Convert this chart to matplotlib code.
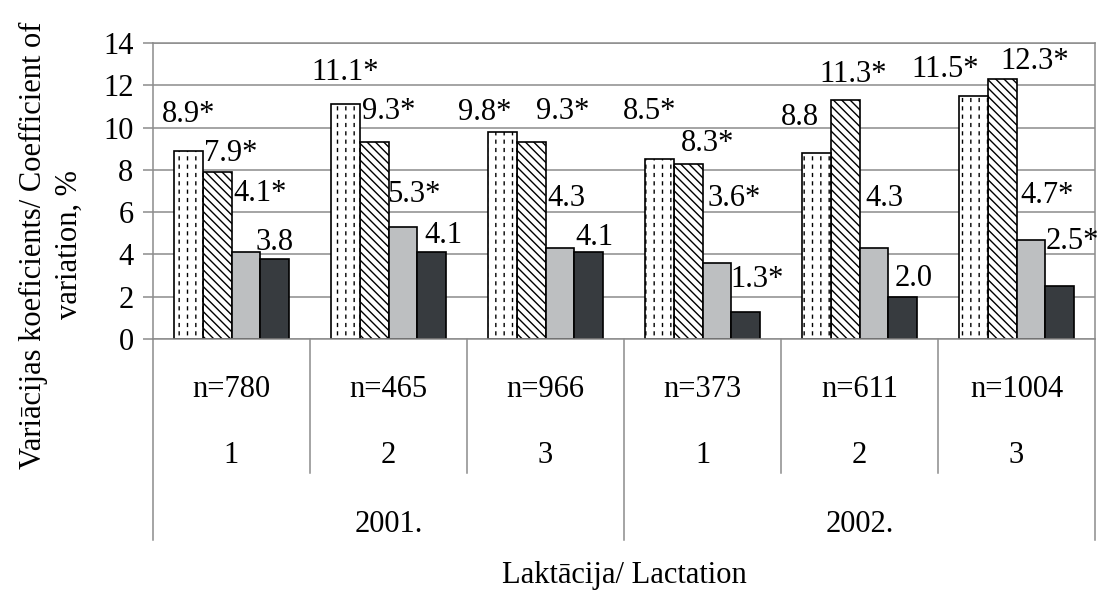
import numpy as np
import matplotlib.pyplot as plt
import matplotlib.transforms as mtransforms

plt.rcParams['font.family'] = ['Liberation Serif', 'DejaVu Serif']

years = ['2001.', '2002.']
lactation = ['1', '2', '3', '1', '2', '3']
n_labels = ['n=780', 'n=465', 'n=966', 'n=373', 'n=611', 'n=1004']

# four series of coefficients of variation, %
s1 = [8.9, 11.1, 9.8, 8.5, 8.8, 11.5]
s2 = [7.9, 9.3, 9.3, 8.3, 11.3, 12.3]
s3 = [4.1, 5.3, 4.3, 3.6, 4.3, 4.7]
s4 = [3.8, 4.1, 4.1, 1.3, 2.0, 2.5]
# significance marks (*)
sig1 = [1, 1, 1, 1, 0, 1]
sig2 = [1, 1, 1, 1, 1, 1]
sig3 = [1, 1, 0, 1, 0, 1]
sig4 = [0, 0, 0, 1, 0, 1]

# label shifts from the top of each bar, in pixels (dx, dy up)
off1 = [(0, 39), (0, 34), (-18, 22), (-10, 50), (-16, 38), (-28, 29)]
off2 = [(14, 21), (15, 33), (32, 33), (19, 23), (8, 28), (33, 20)]
off3 = [(14, 61), (11, 35), (7, 52), (17, 67), (11, 52), (16, 47)]
off4 = [(0, 19), (12, 19), (6, 17), (11, 35), (11, 21), (13, 47)]

grey = '#8c8c8c'
fs = 22

fig = plt.figure(figsize=(11, 5.9), dpi=100)
ax = fig.add_axes([153 / 1100, (590 - 339) / 590, (1095 - 153) / 1100, 296 / 590])

x = np.arange(len(s1))
w = 0.183
pos = [x - 1.5 * w, x - 0.5 * w, x + 0.5 * w, x + 1.5 * w]

# series 1: white with dashed vertical lines
ax.bar(pos[0], s1, w, color='white', edgecolor='black', lw=0, hatch='||', zorder=2)
with plt.rc_context({'hatch.linewidth': 3.0}):
    gaps = ax.bar(pos[0], s1, w, color='none', edgecolor='white', lw=0, hatch='--', zorder=2.1)
for p in gaps:
    if hasattr(p, 'set_hatch_linewidth'):
        p.set_hatch_linewidth(3.0)
ax.bar(pos[0], s1, w, fill=False, edgecolor='black', lw=1.2, zorder=2.2)
# series 2: diagonal hatch
ax.bar(pos[1], s2, w, color='white', edgecolor='black', lw=1.2, hatch='\\\\\\\\', zorder=2)
ax.bar(pos[2], s3, w, color='#bdbfc1', edgecolor='black', lw=1.2, zorder=2)
ax.bar(pos[3], s4, w, color='#373b3f', edgecolor='black', lw=1.2, zorder=2)

for p, vals, sig, off in zip(pos, [s1, s2, s3, s4], [sig1, sig2, sig3, sig4],
                             [off1, off2, off3, off4]):
    for xi, v, s, (dx, dy) in zip(p, vals, sig, off):
        ax.annotate(f'{v:.1f}' + ('*' if s else ''), xy=(xi, v),
                    xytext=(dx * 0.72, (dy - 10) * 0.72), textcoords='offset points',
                    ha='center', va='baseline', fontsize=fs, annotation_clip=False,
                    zorder=5)

ax.set_xlim(-0.5, 5.5)
ax.set_ylim(0, 14)
ax.set_yticks(range(0, 15, 2))
ax.yaxis.grid(True, color=grey, lw=1.1)
ax.set_axisbelow(True)
for sp in ax.spines.values():
    sp.set_color(grey)
    sp.set_linewidth(1.1)
ax.tick_params(axis='y', length=7, width=1.1, color=grey, pad=7, labelsize=fs)
ax.tick_params(axis='x', bottom=False, labelbottom=False)

# multi-level category axis
trans = mtransforms.blended_transform_factory(ax.transData, ax.transAxes)
for b in np.arange(-0.5, 6.0, 1.0):
    ybot = -0.679 if b in (-0.5, 2.5, 5.5) else -0.453
    ax.plot([b, b], [0, ybot], transform=trans, clip_on=False, color=grey, lw=1.1)
for i in x:
    ax.text(i, -0.196, n_labels[i], transform=trans, ha='center', va='baseline', fontsize=fs)
    ax.text(i, -0.419, lactation[i], transform=trans, ha='center', va='baseline', fontsize=fs)
for j, yr in enumerate(years):
    ax.text(1 + 3 * j, -0.652, yr, transform=trans, ha='center', va='baseline', fontsize=fs)
ax.text(0.5, -0.824, 'Laktācija/ Lactation', transform=ax.transAxes,
        ha='center', va='baseline', fontsize=fs)

fig.text(0.047, (590 - 245) / 590, 'Variācijas koeficients/ Coefficient of\nvariation, %',
         rotation=90, ha='center', va='center', multialignment='center', fontsize=fs,
         linespacing=1.3)

fig.savefig('out.png', dpi=100)
